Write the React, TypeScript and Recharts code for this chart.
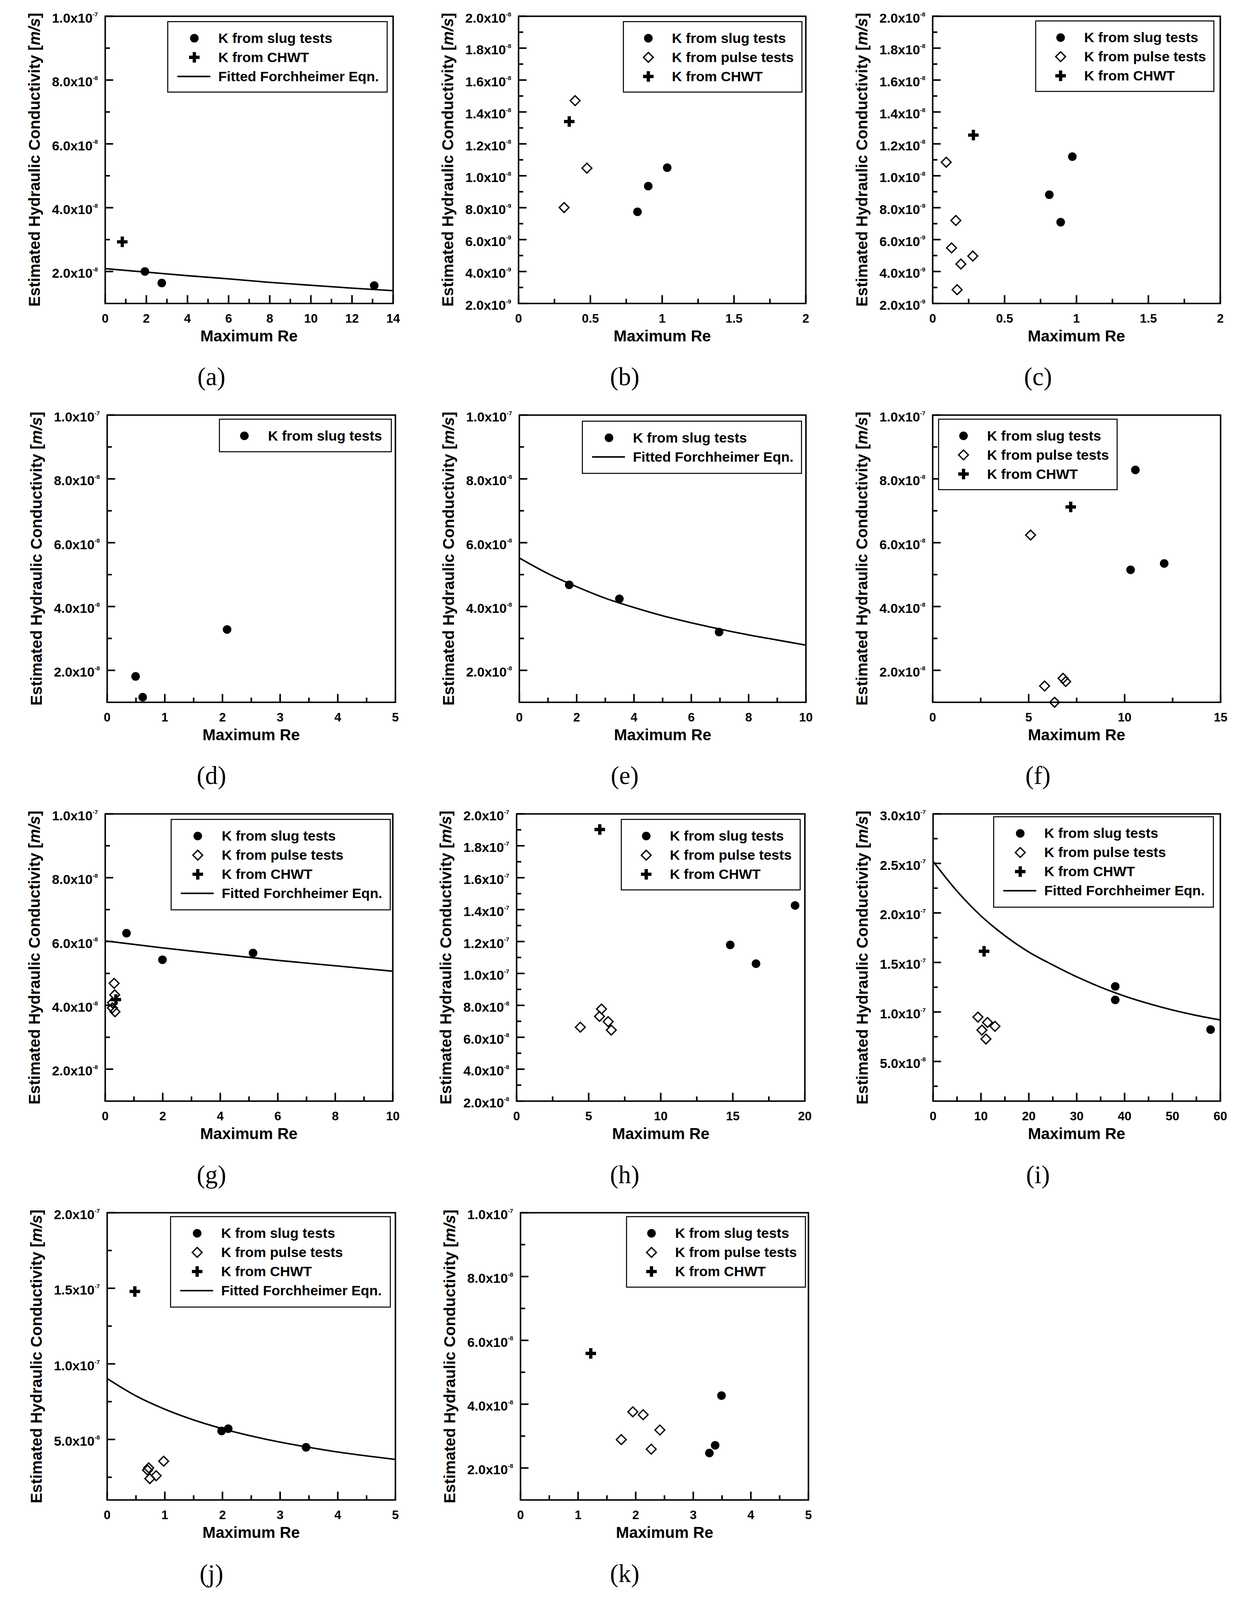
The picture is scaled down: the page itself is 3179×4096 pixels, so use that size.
import React from 'react';
import { ComposedChart, XAxis, YAxis, Scatter, Line, ReferenceArea } from 'recharts';

const S = 0.851;
const SANS = '"Liberation Sans", Arial, Helvetica, sans-serif';
const SERIF = '"Liberation Serif", "Times New Roman", Times, serif';

type Pt = { x: number; y: number };
const zip = (xs: number[], ys: number[]): Pt[] => xs.map((x, i) => ({ x, y: ys[i] }));

// ---------------- tick values ----------------
const xMaj14 = [0, 2, 4, 6, 8, 10, 12, 14];
const xMin14 = [1, 3, 5, 7, 9, 11, 13];
const xMaj2 = [0, 0.5, 1, 1.5, 2];
const xMin2 = [0.25, 0.75, 1.25, 1.75];
const xMaj5 = [0, 1, 2, 3, 4, 5];
const xMin5 = [0.5, 1.5, 2.5, 3.5, 4.5];
const xMaj10 = [0, 2, 4, 6, 8, 10];
const xMin10 = [1, 3, 5, 7, 9];
const xMaj15 = [0, 5, 10, 15];
const xMin15 = [2.5, 7.5, 12.5];
const xMaj20 = [0, 5, 10, 15, 20];
const xMin20 = [2.5, 7.5, 12.5, 17.5];
const xMaj60 = [0, 10, 20, 30, 40, 50, 60];
const xMin60 = [5, 15, 25, 35, 45, 55];

const yMaj1e7 = [2e-8, 4e-8, 6e-8, 8e-8, 1e-7];
const yMin1e7 = [3e-8, 5e-8, 7e-8, 9e-8];
const yMaj2e8 = [2e-9, 4e-9, 6e-9, 8e-9, 1e-8, 1.2e-8, 1.4e-8, 1.6e-8, 1.8e-8, 2e-8];
const yMin2e8 = [3e-9, 5e-9, 7e-9, 9e-9, 1.1e-8, 1.3e-8, 1.5e-8, 1.7e-8, 1.9e-8];
const yMaj2e7h = [2e-8, 4e-8, 6e-8, 8e-8, 1e-7, 1.2e-7, 1.4e-7, 1.6e-7, 1.8e-7, 2e-7];
const yMin2e7h = [3e-8, 5e-8, 7e-8, 9e-8, 1.1e-7, 1.3e-7, 1.5e-7, 1.7e-7, 1.9e-7];
const yMaj3e7 = [5e-8, 1e-7, 1.5e-7, 2e-7, 2.5e-7, 3e-7];
const yMin3e7 = [2.5e-8, 7.5e-8, 1.25e-7, 1.75e-7, 2.25e-7, 2.75e-7];
const yMaj2e7j = [5e-8, 1e-7, 1.5e-7, 2e-7];
const yMin2e7j = [2.5e-8, 7.5e-8, 1.25e-7, 1.75e-7];

// ---------------- data ----------------
// (a)
const aSlugRe = [1.93, 2.75, 13.08];
const aSlugK = [2.0e-8, 1.64e-8, 1.56e-8];
const aChwtRe = [0.83];
const aChwtK = [2.93e-8];
const aFitRe = [0, 2, 4, 6, 8, 10, 12, 14];
const aFitK = [2.09e-8, 1.98e-8, 1.87e-8, 1.77e-8, 1.66e-8, 1.57e-8, 1.48e-8, 1.4e-8];
// (b)
const bSlugRe = [0.828, 0.903, 1.035];
const bSlugK = [7.74e-9, 9.35e-9, 1.051e-8];
const bPulseRe = [0.317, 0.394, 0.476];
const bPulseK = [8.01e-9, 1.471e-8, 1.048e-8];
const bChwtRe = [0.353];
const bChwtK = [1.34e-8];
// (c)
const cSlugRe = [0.971, 0.811, 0.89];
const cSlugK = [1.12e-8, 8.81e-9, 7.09e-9];
const cPulseRe = [0.094, 0.161, 0.131, 0.196, 0.279, 0.17];
const cPulseK = [1.085e-8, 7.2e-9, 5.48e-9, 4.47e-9, 4.97e-9, 2.86e-9];
const cChwtRe = [0.283];
const cChwtK = [1.255e-8];
// (d)
const dSlugRe = [0.493, 0.616, 2.08];
const dSlugK = [1.81e-8, 1.16e-8, 3.28e-8];
// (e)
const eSlugRe = [1.74, 3.49, 6.97];
const eSlugK = [4.68e-8, 4.24e-8, 3.2e-8];
const eFitRe = [0, 1, 2, 3, 4, 5, 6, 7, 8, 9, 10];
const eFitK = [5.52e-8, 5.03e-8, 4.62e-8, 4.26e-8, 3.97e-8, 3.71e-8, 3.49e-8, 3.29e-8, 3.11e-8, 2.95e-8, 2.79e-8];
// (f)
const fSlugRe = [10.56, 10.31, 12.06];
const fSlugK = [8.28e-8, 5.15e-8, 5.35e-8];
const fPulseRe = [5.1, 5.83, 6.35, 6.79, 6.93];
const fPulseK = [6.24e-8, 1.51e-8, 1.0e-8, 1.75e-8, 1.65e-8];
const fChwtRe = [7.19];
const fChwtK = [7.12e-8];
// (g)
const gSlugRe = [0.74, 1.99, 5.14];
const gSlugK = [6.26e-8, 5.43e-8, 5.64e-8];
const gPulseRe = [0.31, 0.33, 0.25, 0.25, 0.34];
const gPulseK = [4.69e-8, 4.33e-8, 4.08e-8, 3.92e-8, 3.8e-8];
const gChwtRe = [0.37];
const gChwtK = [4.18e-8];
const gFitRe = [0, 2, 4, 6, 8, 10];
const gFitK = [6.02e-8, 5.8e-8, 5.6e-8, 5.41e-8, 5.24e-8, 5.07e-8];
// (h)
const hSlugRe = [14.82, 16.61, 19.32];
const hSlugK = [1.179e-7, 1.061e-7, 1.426e-7];
const hPulseRe = [4.42, 5.89, 5.75, 6.35, 6.57];
const hPulseK = [6.63e-8, 7.77e-8, 7.31e-8, 6.98e-8, 6.45e-8];
const hChwtRe = [5.77];
const hChwtK = [1.902e-7];
// (i)
const iSlugRe = [38.05, 38.05, 57.96];
const iSlugK = [1.258e-7, 1.122e-7, 8.22e-8];
const iPulseRe = [9.37, 11.37, 10.2, 12.92, 11.04];
const iPulseK = [9.48e-8, 8.94e-8, 8.17e-8, 8.55e-8, 7.27e-8];
const iChwtRe = [10.65];
const iChwtK = [1.613e-7];
const iFitRe = [0, 5, 10, 15, 20, 25, 30, 35, 40, 45, 50, 55, 60];
const iFitK = [2.52e-7, 2.22e-7, 1.97e-7, 1.77e-7, 1.605e-7, 1.475e-7, 1.355e-7, 1.25e-7, 1.16e-7, 1.085e-7, 1.02e-7, 9.65e-8, 9.19e-8];
// (j)
const jSlugRe = [1.985, 2.1, 3.45];
const jSlugK = [5.56e-8, 5.71e-8, 4.48e-8];
const jPulseRe = [0.72, 0.7, 0.85, 0.74, 0.98];
const jPulseK = [3.12e-8, 2.97e-8, 2.6e-8, 2.41e-8, 3.56e-8];
const jChwtRe = [0.48];
const jChwtK = [1.479e-7];
const jFitRe = [0, 0.5, 1, 1.5, 2, 2.5, 3, 3.5, 4, 4.5, 5];
const jFitK = [9.03e-8, 7.88e-8, 7.0e-8, 6.29e-8, 5.71e-8, 5.23e-8, 4.82e-8, 4.48e-8, 4.17e-8, 3.91e-8, 3.68e-8];
// (k)
const kSlugRe = [3.49, 3.38, 3.28];
const kSlugK = [4.27e-8, 2.71e-8, 2.47e-8];
const kPulseRe = [1.75, 1.95, 2.13, 2.42, 2.27];
const kPulseK = [2.89e-8, 3.76e-8, 3.67e-8, 3.19e-8, 2.59e-8];
const kChwtRe = [1.22];
const kChwtK = [5.59e-8];

// ---------------- panel layout ----------------
interface Leg { x: number; y: number; w: number; items: string[] }
interface Panel {
  id: string; row: number; col: number; L: number; R: number;
  xDomain: [number, number]; xMaj: number[]; xMin: number[];
  yDomain: [number, number]; yMaj: number[]; yMin: number[];
  slug?: Pt[]; pulse?: Pt[]; chwt?: Pt[]; fit?: Pt[];
  legend: Leg;
}

const panels: Panel[] = [
  { id: 'a', row: 0, col: 0, L: 316, R: 1182, xDomain: [0, 14], xMaj: xMaj14, xMin: xMin14, yDomain: [1e-8, 1e-7], yMaj: yMaj1e7, yMin: yMin1e7,
    slug: zip(aSlugRe, aSlugK), chwt: zip(aChwtRe, aChwtK), fit: zip(aFitRe, aFitK),
    legend: { x: 504.5, y: 65, w: 660, items: ['slug', 'chwt', 'fit'] } },
  { id: 'b', row: 0, col: 1, L: 1560, R: 2424, xDomain: [0, 2], xMaj: xMaj2, xMin: xMin2, yDomain: [2e-9, 2e-8], yMaj: yMaj2e8, yMin: yMin2e8,
    slug: zip(bSlugRe, bSlugK), pulse: zip(bPulseRe, bPulseK), chwt: zip(bChwtRe, bChwtK),
    legend: { x: 1875, y: 65, w: 537, items: ['slug', 'pulse', 'chwt'] } },
  { id: 'c', row: 0, col: 2, L: 2805, R: 3670, xDomain: [0, 2], xMaj: xMaj2, xMin: xMin2, yDomain: [2e-9, 2e-8], yMaj: yMaj2e8, yMin: yMin2e8,
    slug: zip(cSlugRe, cSlugK), pulse: zip(cPulseRe, cPulseK), chwt: zip(cChwtRe, cChwtK),
    legend: { x: 3115, y: 63, w: 536, items: ['slug', 'pulse', 'chwt'] } },
  { id: 'd', row: 1, col: 0, L: 322, R: 1189, xDomain: [0, 5], xMaj: xMaj5, xMin: xMin5, yDomain: [1e-8, 1e-7], yMaj: yMaj1e7, yMin: yMin1e7,
    slug: zip(dSlugRe, dSlugK),
    legend: { x: 660, y: 61, w: 517, items: ['slug'] } },
  { id: 'e', row: 1, col: 1, L: 1562, R: 2424, xDomain: [0, 10], xMaj: xMaj10, xMin: xMin10, yDomain: [1e-8, 1e-7], yMaj: yMaj1e7, yMin: yMin1e7,
    slug: zip(eSlugRe, eSlugK), fit: zip(eFitRe, eFitK),
    legend: { x: 1751.7, y: 67, w: 659, items: ['slug', 'fit'] } },
  { id: 'f', row: 1, col: 2, L: 2805, R: 3671, xDomain: [0, 15], xMaj: xMaj15, xMin: xMin15, yDomain: [1e-8, 1e-7], yMaj: yMaj1e7, yMin: yMin1e7,
    slug: zip(fSlugRe, fSlugK), pulse: zip(fPulseRe, fPulseK), chwt: zip(fChwtRe, fChwtK),
    legend: { x: 2823, y: 61, w: 537, items: ['slug', 'pulse', 'chwt'] } },
  { id: 'g', row: 2, col: 0, L: 316, R: 1181, xDomain: [0, 10], xMaj: xMaj10, xMin: xMin10, yDomain: [1e-8, 1e-7], yMaj: yMaj1e7, yMin: yMin1e7,
    slug: zip(gSlugRe, gSlugK), pulse: zip(gPulseRe, gPulseK), chwt: zip(gChwtRe, gChwtK), fit: zip(gFitRe, gFitK),
    legend: { x: 514.8, y: 65, w: 659, items: ['slug', 'pulse', 'chwt', 'fit'] } },
  { id: 'h', row: 2, col: 1, L: 1554, R: 2421, xDomain: [0, 20], xMaj: xMaj20, xMin: xMin20, yDomain: [2e-8, 2e-7], yMaj: yMaj2e7h, yMin: yMin2e7h,
    slug: zip(hSlugRe, hSlugK), pulse: zip(hPulseRe, hPulseK), chwt: zip(hChwtRe, hChwtK),
    legend: { x: 1868.7, y: 65, w: 538, items: ['slug', 'pulse', 'chwt'] } },
  { id: 'i', row: 2, col: 2, L: 2806, R: 3670, xDomain: [0, 60], xMaj: xMaj60, xMin: xMin60, yDomain: [1e-8, 3e-7], yMaj: yMaj3e7, yMin: yMin3e7,
    slug: zip(iSlugRe, iSlugK), pulse: zip(iPulseRe, iPulseK), chwt: zip(iChwtRe, iChwtK), fit: zip(iFitRe, iFitK),
    legend: { x: 2988.6, y: 57, w: 661, items: ['slug', 'pulse', 'chwt', 'fit'] } },
  { id: 'j', row: 3, col: 0, L: 322, R: 1189, xDomain: [0, 5], xMaj: xMaj5, xMin: xMin5, yDomain: [1e-8, 2e-7], yMaj: yMaj2e7j, yMin: yMin2e7j,
    slug: zip(jSlugRe, jSlugK), pulse: zip(jPulseRe, jPulseK), chwt: zip(jChwtRe, jChwtK), fit: zip(jFitRe, jFitK),
    legend: { x: 513, y: 60, w: 661, items: ['slug', 'pulse', 'chwt', 'fit'] } },
  { id: 'k', row: 3, col: 1, L: 1566, R: 2432, xDomain: [0, 5], xMaj: xMaj5, xMin: xMin5, yDomain: [1e-8, 1e-7], yMaj: yMaj1e7, yMin: yMin1e7,
    slug: zip(kSlugRe, kSlugK), pulse: zip(kPulseRe, kPulseK), chwt: zip(kChwtRe, kChwtK),
    legend: { x: 1884.5, y: 60, w: 538, items: ['slug', 'pulse', 'chwt'] } },
];

const COL_CENTER = [636, 1879, 3122];
const ROW_H = 1200;
const PLOT_TOP = 48.5;
const PLOT_H = 864;

const LEG_H = [0, 98, 157, 212, 272];
const LEG_TEXT: Record<string, string> = {
  slug: 'K from slug tests',
  pulse: 'K from pulse tests',
  chwt: 'K from CHWT',
  fit: 'Fitted Forchheimer Eqn.',
};

// ---------------- styles ----------------
const AXIS_W = 3.8;
const TICK_W = 4.0;
const FIT_W = 3.9;
const DOT_R = 11;
const DIA = 12.5;
const DIA_W = 3.4;
const PLUS_A = 13.5;
const PLUS_T = 4.2;

const isIn = (arr: number[], v: number) => arr.some((a) => Math.abs(a - v) <= Math.abs(a) * 1e-6 + 1e-15);

const fmtY = (v: number) => {
  const e = Math.floor(Math.log10(v) + 1e-9);
  const m = v / Math.pow(10, e);
  return { m: m.toFixed(1), e: String(e) };
};

const dotPath = (cx: number, cy: number) => <circle cx={cx} cy={cy} r={DOT_R} fill="#000" />;
const diamondPath = (cx: number, cy: number) => (
  <path d={`M${cx},${cy - DIA}L${cx + DIA},${cy}L${cx},${cy + DIA}L${cx - DIA},${cy}Z`} fill="none" stroke="#000" strokeWidth={DIA_W} strokeLinejoin="miter" />
);
const plusPath = (cx: number, cy: number) => {
  const a = PLUS_A, t = PLUS_T;
  return (
    <path
      d={`M${cx - t},${cy - a}h${2 * t}v${a - t}h${a - t}v${2 * t}h${-(a - t)}v${a - t}h${-2 * t}v${-(a - t)}h${-(a - t)}v${-2 * t}h${a - t}Z`}
      fill="#000"
    />
  );
};

const DotShape = (p: any) => dotPath(p.cx, p.cy);
const DiamondShape = (p: any) => diamondPath(p.cx, p.cy);
const PlusShape = (p: any) => plusPath(p.cx, p.cy);

const PAD_L = 300, PAD_T = 30, PAD_R = 40, PAD_B = 90;

function PanelChart({ p }: { p: Panel }) {
  const T = ROW_H * p.row + PLOT_TOP;
  const plotW = p.R - p.L;
  const W = (plotW + PAD_L + PAD_R) * S;
  const H = (PLOT_H + PAD_T + PAD_B) * S;
  const left = (p.L - PAD_L) * S;
  const top = (T - PAD_T) * S;
  const plotLeft = PAD_L * S;
  const plotBottom = (PAD_T + PLOT_H) * S;

  const xTicks = [...p.xMaj, ...p.xMin].sort((a, b) => a - b);
  const yTicks = [...p.yMaj, ...p.yMin].sort((a, b) => a - b);

  const xTick = (props: any) => {
    const v = props.payload.value;
    const cx = props.x;
    const major = isIn(p.xMaj, v);
    const len = (major ? 25 : 14) * S;
    return (
      <g>
        <line x1={cx} x2={cx} y1={plotBottom} y2={plotBottom - len} stroke="#000" strokeWidth={TICK_W} />
        {major && (
          <text x={cx} y={plotBottom + 45.5 * S} textAnchor="middle" dominantBaseline="central" fontFamily={SANS} fontWeight="bold" fontSize={37 * S} fill="#000">
            {String(v)}
          </text>
        )}
      </g>
    );
  };

  const yTick = (props: any) => {
    const v = props.payload.value;
    const cy = props.y;
    const major = isIn(p.yMaj, v);
    const len = (major ? 24 : 14) * S;
    const f = fmtY(v);
    return (
      <g>
        <line x1={plotLeft} x2={plotLeft + len} y1={cy} y2={cy} stroke="#000" strokeWidth={TICK_W} />
        {major && (
          <text x={plotLeft - 22 * S} y={cy + 5 * S} textAnchor="end" dominantBaseline="central" fontFamily={SANS} fontWeight="bold" fontSize={40 * S} fill="#000">
            {f.m + 'x10'}
            <tspan dy={-12 * S} fontSize={18 * S}>{f.e}</tspan>
          </text>
        )}
      </g>
    );
  };

  return (
    <div style={{ position: 'absolute', left, top, width: W, height: H }}>
      <ComposedChart width={W} height={H} margin={{ top: PAD_T * S, right: PAD_R * S, left: 0, bottom: 0 }}>
        <XAxis
          type="number"
          dataKey="x"
          xAxisId={0}
          domain={p.xDomain}
          ticks={xTicks}
          interval={0}
          height={PAD_B * S}
          axisLine={false}
          tickLine={false}
          tickSize={0}
          tickMargin={0}
          tick={xTick}
        />
        <YAxis
          type="number"
          dataKey="y"
          yAxisId={0}
          domain={p.yDomain}
          ticks={yTicks}
          interval={0}
          width={PAD_L * S}
          axisLine={false}
          tickLine={false}
          tickSize={0}
          tickMargin={0}
          tick={yTick}
        />
        <ReferenceArea
          x1={p.xDomain[0]}
          x2={p.xDomain[1]}
          y1={p.yDomain[0]}
          y2={p.yDomain[1]}
          fill="none"
          fillOpacity={0}
          stroke="#000"
          strokeWidth={AXIS_W}
          strokeOpacity={1}
          ifOverflow="visible"
        />
        {p.fit && (
          <Line data={p.fit} dataKey="y" type="monotone" stroke="#000" strokeWidth={FIT_W} dot={false} activeDot={false} isAnimationActive={false} />
        )}
        {p.pulse && <Scatter data={p.pulse} shape={DiamondShape} isAnimationActive={false} />}
        {p.slug && <Scatter data={p.slug} shape={DotShape} isAnimationActive={false} />}
        {p.chwt && <Scatter data={p.chwt} shape={PlusShape} isAnimationActive={false} />}
      </ComposedChart>
    </div>
  );
}

function Overlay() {
  return (
    <svg width={3179} height={4096} style={{ position: 'absolute', left: 0, top: 0, pointerEvents: 'none' }}>
      {panels.map((p) => {
        const T = ROW_H * p.row + PLOT_TOP;
        const B = T + PLOT_H;
        const rowTop = ROW_H * p.row;
        const lg = p.legend;
        const lx = lg.x * S;
        const ly = (rowTop + lg.y) * S;
        const n = lg.items.length;
        const hasLine = lg.items.includes('fit');
        const mDx = hasLine ? 80 : 75;
        const tDx = hasLine ? 152 : 146;
        const yt = (T + B) / 2;
        const tx = p.L - 213;
        return (
          <g key={p.id}>
            <text x={((p.L + p.R) / 2) * S} y={(rowTop + 1010) * S} textAnchor="middle" dominantBaseline="central" fontFamily={SANS} fontWeight="bold" fontSize={47.5 * S} fill="#000">
              Maximum Re
            </text>
            <text
              x={tx * S}
              y={yt * S}
              transform={`rotate(-90 ${tx * S} ${yt * S})`}
              textAnchor="middle"
              dominantBaseline="central"
              fontFamily={SANS}
              fontWeight="bold"
              fontSize={47.5 * S}
              fill="#000"
            >
              {'Estimated Hydraulic Conductivity ['}
              <tspan fontStyle="italic">m/s</tspan>
              {']'}
            </text>
            <text x={COL_CENTER[p.col] * S} y={(rowTop + 1133) * S} textAnchor="middle" dominantBaseline="central" fontFamily={SERIF} fontSize={76 * S} fill="#000">
              {`(${p.id})`}
            </text>
            <rect x={lx} y={ly} width={lg.w * S} height={LEG_H[n] * S} fill="#fff" stroke="#000" strokeWidth={2.6} />
            {lg.items.map((it, i) => {
              const ry = ly + (50 + 57.5 * i) * S;
              const mx = lx + mDx * S;
              return (
                <g key={it}>
                  {it === 'slug' && dotPath(mx, ry)}
                  {it === 'pulse' && diamondPath(mx, ry)}
                  {it === 'chwt' && plusPath(mx, ry)}
                  {it === 'fit' && <line x1={lx + 29 * S} x2={lx + 128 * S} y1={ry} y2={ry} stroke="#000" strokeWidth={FIT_W} />}
                  <text x={lx + tDx * S} y={ry} dominantBaseline="central" fontFamily={SANS} fontWeight="bold" fontSize={42 * S} fill="#000">
                    {LEG_TEXT[it]}
                  </text>
                </g>
              );
            })}
          </g>
        );
      })}
    </svg>
  );
}

export default function App() {
  return (
    <div style={{ position: 'absolute', left: 0, top: 0, width: 3179, height: 4096, background: '#fff', overflow: 'hidden' }}>
      {panels.map((p) => (
        <PanelChart key={p.id} p={p} />
      ))}
      <Overlay />
    </div>
  );
}
